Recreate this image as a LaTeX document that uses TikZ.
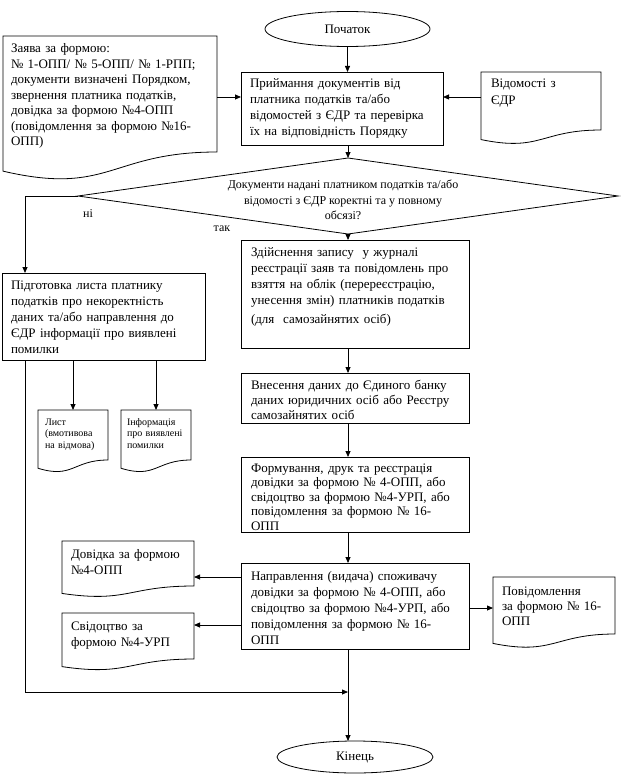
\documentclass[tikz,border=0pt]{standalone}
\usepackage{fontspec}
\setmainfont{Liberation Serif}
\usetikzlibrary{shapes.geometric,arrows.meta,calc}
\newcommand{\fs}[2]{\fontsize{#1pt}{#2pt}\selectfont}
\newcommand{\docoutline}[1]{%
  \draw[ln] (#1.north west) -- (#1.north east) -- (#1.south east)
    .. controls (#1.south) and ($(#1.north)!1.380!(#1.south)$)
    .. ($(#1.north west)!1.165!(#1.south west)$) -- cycle;}
\tikzset{
  ln/.style={line width=0.8pt},
  arr/.style={ln,-{Triangle[length=6pt,width=5pt]}},
  box/.style={draw,ln,anchor=north west,align=left,outer sep=0pt,inner ysep=5pt},
  docn/.style={anchor=north west,align=left,outer sep=0pt,inner ysep=5pt},
  term/.style={draw,ln,ellipse,inner sep=0pt,outer sep=0pt,font=\fs{13}{15}},
  lbl/.style={inner sep=0pt,font=\fs{12}{14}}
}
\begin{document}
\begin{tikzpicture}[x=1pt,y=-1pt]
\useasboundingbox (0,0) rectangle (626,781);
% terminals
\node[term,minimum width=165pt,minimum height=35pt] (start) at (347.5,29) {Початок};
\node[term,minimum width=156pt,minimum height=32pt] (end) at (355,757) {Кінець};
% left input document
\node[docn,minimum width=214pt,inner xsep=8pt,text width=198pt,text height=12pt,text depth=94pt,font=\fs{13}{15.5}] (zayava) at (3,36)
 {Заява за формою:\\№ 1-ОПП/ № 5-ОПП/ № 1-РПП;\\документи визначені Порядком,\\звернення платника податків,\\довідка за формою №4-ОПП\\(повідомлення за формою №16-\\ОПП)};
\docoutline{zayava}
% box 1
\node[box,minimum width=202pt,inner xsep=9pt,text width=184pt,text height=11pt,text depth=52pt,font=\fs{13}{16}] (box1) at (241,72)
 {Приймання документів від\\платника податків та/або\\відомостей з ЄДР та перевірка\\їх на відповідність Порядку};
% EDR document
\node[docn,minimum width=120pt,inner xsep=10pt,text width=100pt,text height=11pt,text depth=37pt,font=\fs{13}{17}] (edr) at (481,72)
 {Відомості з\\ЄДР};
\docoutline{edr}
% decision
\node[draw,ln,diamond,minimum width=540pt,minimum height=76pt,inner sep=0pt,outer sep=0pt] (dec) at (348,196) {};
\node[align=center,inner sep=0pt,font=\fs{12}{15.5}] (dectext) at (343,200)
 {Документи надані платником податків та/або\\відомості з ЄДР коректні та у повному\\обсязі?};
\node[lbl] (ni) at (88,214) {ні};
\node[lbl] (tak) at (222,229) {так};
% main column
\node[box,minimum width=228pt,inner xsep=10pt,text width=208pt,text height=11pt,text depth=87pt,font=\fs{13}{16}] (box2) at (241,240)
 {Здійснення запису \ у журналі\\реєстрації заяв та повідомлень про\\взяття на облік (перереєстрацію,\\унесення змін) платників податків\\[3pt](для \ самозайнятих осіб)};
\node[box,minimum width=228pt,inner xsep=10pt,text width=208pt,text height=11pt,text depth=29pt,font=\fs{13}{15}] (box3) at (241,373)
 {Внесення даних до Єдиного банку\\даних юридичних осіб або Реєстру\\самозайнятих осіб};
\node[box,minimum width=228pt,inner xsep=10pt,text width=208pt,text height=10pt,text depth=55pt,font=\fs{13}{14.6}] (box4) at (241,457)
 {Формування, друк та реєстрація\\довідки за формою № 4-ОПП, або\\свідоцтво за формою №4-УРП, або\\повідомлення за формою № 16-\\ОПП};
\node[box,minimum width=228pt,inner xsep=10pt,text width=208pt,text height=12pt,text depth=64pt,font=\fs{13}{16}] (box5) at (241,563)
 {Направлення (видача) споживачу\\довідки за формою № 4-ОПП, або\\свідоцтво за формою №4-УРП, або\\повідомлення за формою № 16-\\ОПП};
% left branch
\node[box,minimum width=203pt,inner xsep=9pt,text width=185pt,text height=11pt,text depth=66pt,font=\fs{13}{16}] (leftbox) at (2,273)
 {Підготовка листа платнику\\податків про некоректність\\даних та/або направлення до\\ЄДР інформації про виявлені\\помилки};
\node[docn,minimum width=70pt,inner xsep=7pt,inner ysep=6pt,text width=56pt,text height=9pt,text depth=29pt,font=\fs{10}{11.5}] (doc1) at (38,410)
 {Лист\\(вмотивова\\на відмова)};
\docoutline{doc1}
\node[docn,minimum width=70pt,inner xsep=6pt,inner ysep=6pt,text width=58pt,text height=9pt,text depth=29pt,font=\fs{10}{11.5}] (doc2) at (121,410)
 {Інформація\\про виявлені\\помилки};
\docoutline{doc2}
% output documents
\node[docn,minimum width=132pt,inner xsep=9pt,text width=114pt,text height=12pt,text depth=23pt,font=\fs{13}{16}] (dovidka) at (62,541)
 {Довідка за формою\\№4-ОПП};
\docoutline{dovidka}
\node[docn,minimum width=132pt,inner xsep=9pt,text width=114pt,text height=12pt,text depth=24pt,font=\fs{13}{16}] (svid) at (62,613)
 {Свідоцтво за\\формою №4-УРП};
\docoutline{svid}
\node[docn,minimum width=122pt,inner xsep=9pt,text width=104pt,text height=13pt,text depth=34pt,font=\fs{13}{15}] (povid) at (493,577)
 {Повідомлення\\за формою № 16-\\ОПП};
\docoutline{povid}
% helper coordinates
\coordinate (yz) at (0,97);
\coordinate (lx) at (25,0);
\coordinate (merge) at (348,692);
\coordinate (yd) at (0,577);
\coordinate (ys) at (0,625);
\coordinate (yp) at (0,608);
% connectors
\draw[arr] (start.south) -- (start.south |- box1.north);
\draw[arr] (zayava.east |- yz) -- (box1.west |- yz);
\draw[arr] (edr.west |- yz) -- (box1.east |- yz);
\draw[arr] (box1.south -| dec.north) -- (dec.north);
\draw[arr] (dec.south) -- (dec.south |- box2.north);
\draw[arr] (dec.west) -| (lx |- leftbox.north);
\draw[arr] (box2.south -| dec.south) -- (dec.south |- box3.north);
\draw[arr] (box3.south -| dec.south) -- (dec.south |- box4.north);
\draw[arr] (box4.south -| dec.south) -- (dec.south |- box5.north);
\draw[arr] (box5.west |- yd) -- (dovidka.east |- yd);
\draw[arr] (box5.west |- ys) -- (svid.east |- ys);
\draw[arr] (box5.east |- yp) -- (povid.west |- yp);
\draw[arr] (box5.south -| dec.south) -- (dec.south |- end.north);
\draw[arr] (lx |- leftbox.south) |- (merge);
\draw[arr] (leftbox.south -| doc1.north) -- (doc1.north);
\draw[arr] (leftbox.south -| doc2.north) -- (doc2.north);
\end{tikzpicture}
\end{document}
